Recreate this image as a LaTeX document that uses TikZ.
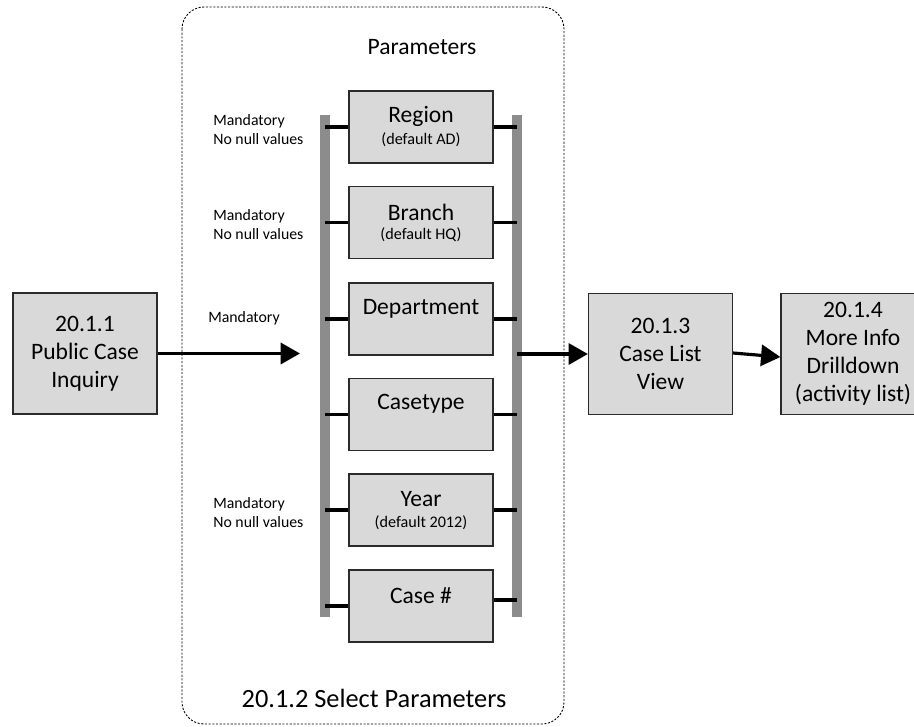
\documentclass[tikz,border=0pt]{standalone}
\usepackage{fontspec}
\setmainfont{Carlito}
\usetikzlibrary{arrows.meta}

\definecolor{boxgrey}{HTML}{D9D9D9}
\definecolor{railgrey}{HTML}{8C8C8C}
\definecolor{edgegrey}{HTML}{2B2B2B}

\tikzset{
	stepbox/.style = {draw = edgegrey, fill = boxgrey, line width = 0.7pt, minimum width = 2.88cm, minimum height = 2.42cm, inner sep = 0pt, align = center, font = \fontsize{13.4}{16}\selectfont},
	parambox/.style = {draw = edgegrey, fill = boxgrey, line width = 0.6pt, minimum width = 2.88cm, minimum height = 1.44cm, inner sep = 0pt},
	ptitle/.style = {inner sep = 0pt, font = \fontsize{13.4}{16}\selectfont},
	psub/.style = {inner sep = 0pt, font = \fontsize{9.2}{11}\selectfont},
	note/.style = {anchor = west, align = left, inner sep = 0pt, font = \fontsize{9}{10.8}\selectfont},
	rail/.style = {fill = railgrey, draw = none, minimum width = 0.2cm, minimum height = 10.04cm, inner sep = 0pt},
	stub/.style = {line width = 1.8pt},
	flow/.style = {line width = 1.8pt, ->},
	frame/.style = {line width = 0.5pt, dash pattern = on 1.2pt off 0.9pt, rounded corners = 0.44cm}
}

\begin{document}
\begin{tikzpicture}[x = 0.02cm, y = -0.02cm, > = {Triangle[length = 11pt, width = 12pt]}]

	\path [use as bounding box, clip] (0, 0) rectangle (914, 727);

	% Select parameters frame

	\draw [frame] (182, 7) rectangle (564, 724);

	\node [ptitle] (partitle) at (422, 47) {Parameters};
	\node [inner sep = 0pt, font = \fontsize{15}{18}\selectfont] (selecttitle) at (374, 698) {20.1.2 Select Parameters};

	% Rails

	\node [rail] (lrail) at (325, 366) {};
	\node [rail] (rrail) at (517, 366) {};

	% Parameter boxes

	\node [parambox] (region) at (421, 127) {};
	\path (region.north) ++(0, 26) node [ptitle] (regiontitle) {Region} ++(0, 23) node [psub] (regionsub) {(default AD)};

	\node [parambox] (branch) at (421, 222.5) {};
	\path (branch.north) ++(0, 26) node [ptitle] (branchtitle) {Branch} ++(0, 23) node [psub] (branchsub) {(default HQ)};

	\node [parambox] (department) at (421, 319) {};
	\path (department.north) ++(0, 26) node [ptitle] (departmenttitle) {Department};

	\node [parambox] (casetype) at (421, 414.5) {};
	\path (casetype.north) ++(0, 26) node [ptitle] (casetypetitle) {Casetype};

	\node [parambox] (year) at (421, 510) {};
	\path (year.north) ++(0, 26) node [ptitle] (yeartitle) {Year} ++(0, 23) node [psub] (yearsub) {(default 2012)};

	\node [parambox] (casenum) at (421, 606) {};
	\path (casenum.north) ++(0, 26) node [ptitle] (casenumtitle) {Case \#};

	\coordinate (casenumout) at ([yshift = 0.12cm] casenum.east);

	% Stubs to the rails

	\begin{scope}[stub]

		\draw (lrail.center |- region.west) -- (region.west);
		\draw (region.east) -- (rrail.center |- region.east);

		\draw (lrail.center |- branch.west) -- (branch.west);
		\draw (branch.east) -- (rrail.center |- branch.east);

		\draw (lrail.center |- department.west) -- (department.west);
		\draw (department.east) -- (rrail.center |- department.east);

		\draw (lrail.center |- casetype.west) -- (casetype.west);
		\draw (casetype.east) -- (rrail.center |- casetype.east);

		\draw (lrail.center |- year.west) -- (year.west);
		\draw (year.east) -- (rrail.center |- year.east);

		\draw (lrail.center |- casenum.west) -- (casenum.west);
		\draw (casenumout) -- (rrail.center |- casenumout);

	\end{scope}

	% Notes

	\node [note] (regionnote) at (213, 130) {Mandatory\\No null values};
	\node [note] (branchnote) at (213, 225) {Mandatory\\No null values};
	\node [note] (departmentnote) at (208, 318) {Mandatory};
	\node [note] (yearnote) at (213, 513) {Mandatory\\No null values};

	% Steps + flow

	\node [stepbox] (inquiry) at (85, 353.5) {20.1.1\\Public Case\\Inquiry};
	\node [stepbox] (caselist) at (660.5, 354) {20.1.3\\Case List\\View};
	\node [stepbox] (moreinfo) at (853, 354) {20.1.4\\More Info\\Drilldown\\(activity list)};

	\coordinate (paramin) at (300, 353.5);

	\draw [flow] (inquiry.east) -- (paramin);
	\draw [flow] (rrail.center |- caselist.west) -- (caselist.west);
	\draw [flow] ([yshift = 0.02cm] caselist.east) -- ([yshift = -0.06cm] moreinfo.west);

\end{tikzpicture}
\end{document}
